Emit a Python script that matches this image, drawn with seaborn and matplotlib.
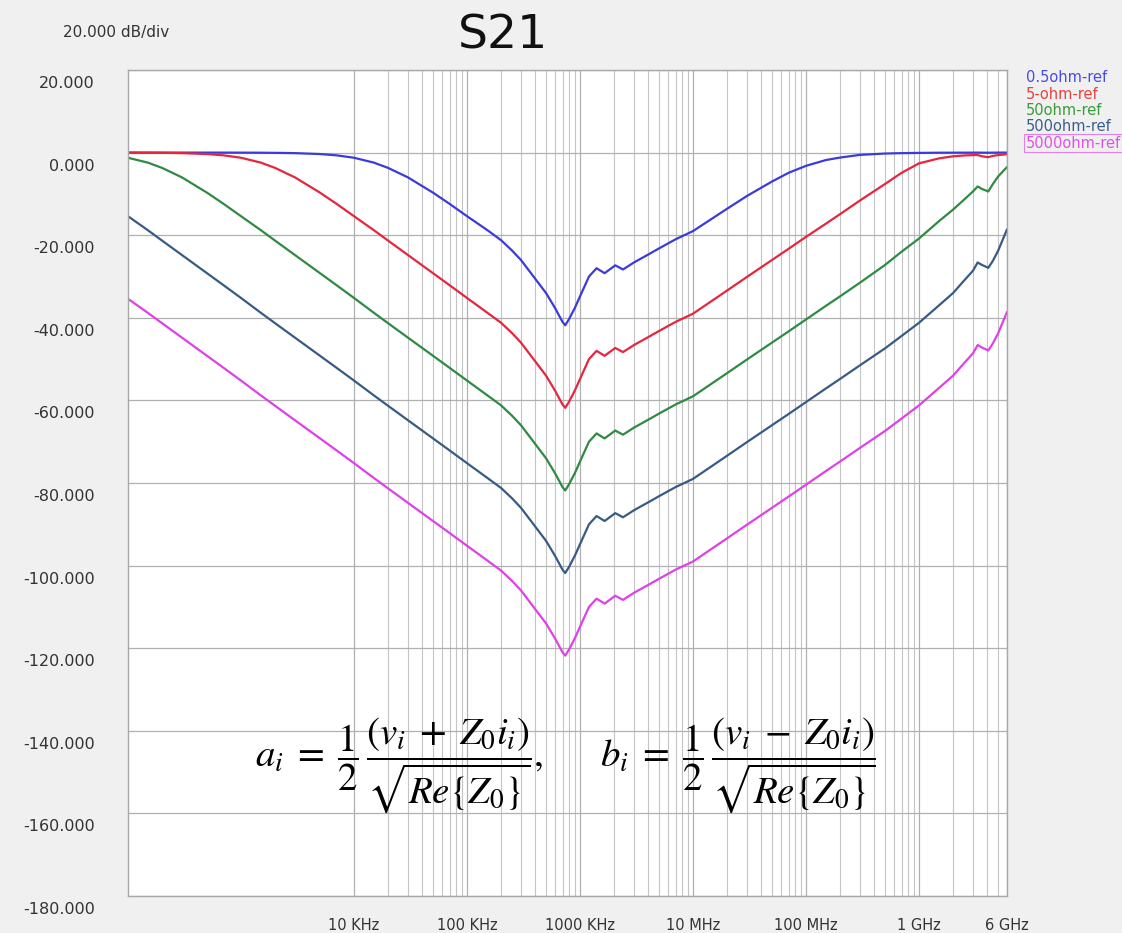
import numpy as np
import pandas as pd
import matplotlib
matplotlib.use("Agg")
import matplotlib.pyplot as plt
import matplotlib.transforms as mtransforms
from matplotlib.ticker import FixedLocator, NullFormatter
from matplotlib.lines import Line2D
import seaborn as sns

# ---------------- data ----------------
freq_hz = [100, 150, 200, 300, 500, 700,
           1e3, 1.5e3, 2e3, 3e3, 5e3, 7e3,
           1e4, 1.5e4, 2e4, 3e4, 5e4, 7e4,
           1e5, 1.5e5, 2e5, 2.5e5, 3e5, 4e5, 5e5, 6e5, 7e5, 7.4e5, 8e5, 9e5,
           1e6, 1.2e6, 1.4e6, 1.65e6, 2.05e6, 2.4e6, 3e6, 4e6, 5e6, 7e6,
           1e7, 2e7, 3e7, 5e7, 7e7,
           1e8, 1.5e8, 2e8, 3e8, 5e8, 7e8,
           1e9, 1.5e9, 2e9, 2.5e9, 3e9, 3.3e9, 3.6e9, 4.1e9, 4.5e9, 5e9, 6e9]

s21_05ohm = [0.0, 0.0, 0.0, 0.0, 0.0, 0.0,
             -0.01, -0.03, -0.06, -0.13, -0.35, -0.66,
             -1.25, -2.43, -3.7, -6.0, -9.7, -12.4,
             -15.4, -18.7, -21.2, -23.7, -26.0, -30.5, -34.0, -37.6, -41.0, -41.8, -40.3, -37.6,
             -34.8, -30.0, -28.0, -29.2, -27.3, -28.3, -26.6, -24.7, -23.2, -21.0,
             -19.0, -13.6, -10.5, -7.0, -4.9,
             -3.2, -1.8, -1.2, -0.55, -0.23, -0.13,
             -0.07, -0.03, -0.02, -0.01, -0.01, 0.0, -0.02, -0.03, -0.01, 0.0, 0.0]

s21_5ohm = [-0.01, -0.03, -0.06, -0.13, -0.35, -0.66,
            -1.25, -2.43, -3.7, -6.0, -9.7, -12.4,
            -15.4, -18.8, -21.3, -24.8, -29.2, -32.1,
            -35.2, -38.7, -41.2, -43.7, -46.0, -50.5, -54.0, -57.6, -61.0, -61.8, -60.3, -57.6,
            -54.8, -50.0, -48.0, -49.2, -47.3, -48.3, -46.6, -44.7, -43.2, -41.0,
            -39.0, -33.4, -30.1, -26.0, -23.3,
            -20.4, -17.2, -14.9, -11.6, -7.6, -4.9,
            -2.6, -1.4, -0.9, -0.7, -0.6, -0.6, -0.9, -1.1, -0.8, -0.6, -0.4]

s21_50ohm = [-1.25, -2.43, -3.7, -6.0, -9.7, -12.4,
             -15.4, -18.8, -21.3, -24.8, -29.2, -32.1,
             -35.2, -38.8, -41.3, -44.8, -49.2, -52.1,
             -55.2, -58.7, -61.2, -63.7, -66.0, -70.5, -74.0, -77.6, -81.0, -81.8, -80.3, -77.6,
             -74.8, -70.0, -68.0, -69.2, -67.3, -68.3, -66.6, -64.7, -63.2, -61.0,
             -59.0, -53.4, -50.1, -46.0, -43.3,
             -40.4, -37.1, -34.8, -31.5, -27.2, -24.0,
             -20.8, -16.6, -13.8, -11.4, -9.4, -8.2, -8.8, -9.4, -7.6, -5.8, -3.5]

s21_500ohm = [-15.4, -18.8, -21.3, -24.8, -29.2, -32.1,
              -35.2, -38.8, -41.3, -44.8, -49.2, -52.1,
              -55.2, -58.8, -61.3, -64.8, -69.2, -72.1,
              -75.2, -78.7, -81.2, -83.7, -86.0, -90.5, -94.0, -97.6, -101.0, -101.8, -100.3, -97.6,
              -94.8, -90.0, -88.0, -89.2, -87.3, -88.3, -86.6, -84.7, -83.2, -81.0,
              -79.0, -73.4, -70.1, -66.0, -63.3,
              -60.4, -57.1, -54.8, -51.5, -47.4, -44.4,
              -41.2, -37.0, -34.0, -31.0, -28.6, -26.6, -27.2, -27.9, -26.2, -23.8, -18.6]

s21_5000ohm = [-35.4, -38.8, -41.3, -44.8, -49.2, -52.1,
               -55.2, -58.8, -61.3, -64.8, -69.2, -72.1,
               -75.2, -78.8, -81.3, -84.8, -89.2, -92.1,
               -95.2, -98.7, -101.2, -103.7, -106.0, -110.5, -114.0, -117.6, -121.0, -121.8, -120.3, -117.6,
               -114.8, -110.0, -108.0, -109.2, -107.3, -108.3, -106.6, -104.7, -103.2, -101.0,
               -99.0, -93.4, -90.1, -86.0, -83.3,
               -80.4, -77.1, -74.8, -71.5, -67.4, -64.4,
               -61.2, -57.0, -54.0, -51.0, -48.6, -46.6, -47.2, -47.9, -46.2, -43.8, -38.6]

series_names = ["0.5ohm-ref", "5-ohm-ref", "50ohm-ref", "500ohm-ref", "5000ohm-ref"]
series_values = [s21_05ohm, s21_5ohm, s21_50ohm, s21_500ohm, s21_5000ohm]

xtick_values = [1e4, 1e5, 1e6, 1e7, 1e8, 1e9, 6e9]
xtick_labels = ["10 KHz", "100 KHz", "1000 KHz", "10 MHz", "100 MHz", "1 GHz", "6 GHz"]
ytick_values = [20, 0, -20, -40, -60, -80, -100, -120, -140, -160, -180]
ytick_labels = ["20.000", "0.000", "-20.000", "-40.000", "-60.000", "-80.000",
                "-100.000", "-120.000", "-140.000", "-160.000", "-180.000"]

# ---------------- styling ----------------
line_colors = ["#3b3bdc", "#e5263f", "#2f8a43", "#385b84", "#e040e8"]
text_colors = ["#4a4ae6", "#e84040", "#3a9a3a", "#3a5f8a", "#e050e8"]

sns.set_theme(style="white")
plt.rcParams["font.family"] = ["DejaVu Sans"]
plt.rcParams["mathtext.fontset"] = "stix"

W, H = 1122, 933
fig = plt.figure(figsize=(W / 100, H / 100), dpi=100, facecolor="#f0f0f0")
L, R, T, B = 128, 1007, 70, 896
ax = fig.add_axes([L / W, 1 - B / H, (R - L) / W, (B - T) / H])
ax.set_facecolor("white")
ax.set_xscale("log")

long_df = pd.concat(
    [pd.DataFrame({"freq": freq_hz, "db": vals, "series": name})
     for name, vals in zip(series_names, series_values)],
    ignore_index=True)

sns.lineplot(data=long_df, x="freq", y="db", hue="series",
             palette=dict(zip(series_names, line_colors)),
             hue_order=series_names, estimator=None, sort=False,
             linewidth=1.6, legend=False, ax=ax)

ax.set_xlim(100, 6e9)
ax.set_ylim(-180, 20)
ax.set_xlabel("")
ax.set_ylabel("")

# ticks / grid
minor_x = [m * d for d in [1e4, 1e5, 1e6, 1e7, 1e8, 1e9] for m in range(2, 10) if m * d < 6e9]
ax.set_xticks(xtick_values)
ax.set_xticklabels(xtick_labels)
ax.xaxis.set_minor_locator(FixedLocator(minor_x))
ax.xaxis.set_minor_formatter(NullFormatter())
ax.set_yticks(ytick_values)
ax.set_yticklabels(ytick_labels)
ax.tick_params(axis="both", which="both", length=0)
ax.tick_params(axis="x", pad=16, labelsize=10.5, labelcolor="#333333")
ax.tick_params(axis="y", pad=24, labelsize=11.5, labelcolor="#333333")
ax.grid(True, which="major", axis="both", color="#b0b0b0", linewidth=0.9)
ax.grid(True, which="minor", axis="x", color="#c4c4c4", linewidth=0.8)
for sp in ax.spines.values():
    sp.set_color("#a8a8a8")
    sp.set_linewidth(1.0)

offset = mtransforms.ScaledTranslation(0, -0.12, fig.dpi_scale_trans)
for lbl in ax.get_yticklabels():
    lbl.set_transform(lbl.get_transform() + offset)

# legend (colored text only)
handles = [Line2D([], [], color=c, linewidth=0) for c in line_colors]
leg = ax.legend(handles, series_names, loc="upper left",
                bbox_to_anchor=((1020 - L) / (R - L), 1.007), borderaxespad=0,
                frameon=False, handlelength=0, handletextpad=0,
                labelspacing=0.1, fontsize=10.5, labelcolor=text_colors)
leg.get_texts()[-1].set_bbox(dict(facecolor="none", edgecolor="#e080e8",
                                  linewidth=0.8, pad=1.0))

# titles
fig.text(503 / W, 1 - 36 / H, "S21", fontsize=34, ha="center", va="center",
         color="#111111")
fig.text(63 / W, 1 - 32 / H, "20.000 dB/div", fontsize=11, ha="left", va="center",
         color="#333333")

# formulas
fig.text(255 / W, 1 - 765 / H,
         r"$a_i\;=\;\dfrac{1}{2}\,\dfrac{(v_i\;+\;Z_0 i_i)}{\sqrt{Re\{Z_0\}}},$",
         fontsize=28, ha="left", va="center", color="black")
fig.text(600 / W, 1 - 765 / H,
         r"$b_i\;=\;\dfrac{1}{2}\,\dfrac{(v_i\;-\;Z_0 i_i)}{\sqrt{Re\{Z_0\}}}$",
         fontsize=28, ha="left", va="center", color="black")

fig.savefig("out.png", dpi=100, facecolor=fig.get_facecolor())
